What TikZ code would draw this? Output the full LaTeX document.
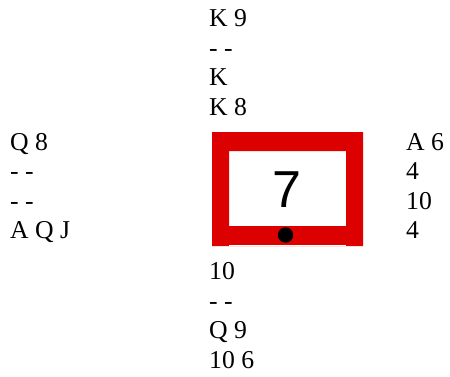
\documentclass[tikz,border=0pt]{standalone}
\usepackage{fontspec}
\setmainfont{Liberation Serif}
\newfontfamily\arialfont{Liberation Sans}
\definecolor{boxred}{RGB}{221,0,0}
\begin{document}
\begin{tikzpicture}[x=1pt,y=-1pt,
  card/.style={inner sep=0pt,anchor=base west,font=\fontsize{25.7}{29.5}\selectfont},
  trick/.style={inner sep=0pt,anchor=base,font=\arialfont\fontsize{52}{60}\selectfont}]
\useasboundingbox (0,0) rectangle (450,376);
% table frame
\fill[boxred,even odd rule] (212,132) rectangle (363,246) (229,151) rectangle (346,226);
\fill[white] (229,244.5) rectangle (346,246);
\node[trick] (t) at (287,207.3) {7};
\fill[black] (285.5,235) circle (7.7);
\node[inner sep=0pt] (dot) at (285.5,235) {};
% North
\node[card] (n1) at (209,26.5) {K 9};
\node[card] (n2) at (209,56) {- -};
\node[card] (n3) at (209,85.5) {K};
\node[card] (n4) at (209,115) {K 8};
% West
\node[card] (w1) at (10,150) {Q 8};
\node[card] (w2) at (10,179.5) {- -};
\node[card] (w3) at (10,209) {- -};
\node[card] (w4) at (10,238.5) {A Q J};
% East
\node[card] (e1) at (406,150) {A 6};
\node[card] (e2) at (406,179.5) {4};
\node[card] (e3) at (406,209) {10};
\node[card] (e4) at (406,238.5) {4};
% South
\node[card] (s1) at (209,279.5) {10};
\node[card] (s2) at (209,309) {- -};
\node[card] (s3) at (209,338.5) {Q 9};
\node[card] (s4) at (209,368) {10 6};
\end{tikzpicture}
\end{document}
